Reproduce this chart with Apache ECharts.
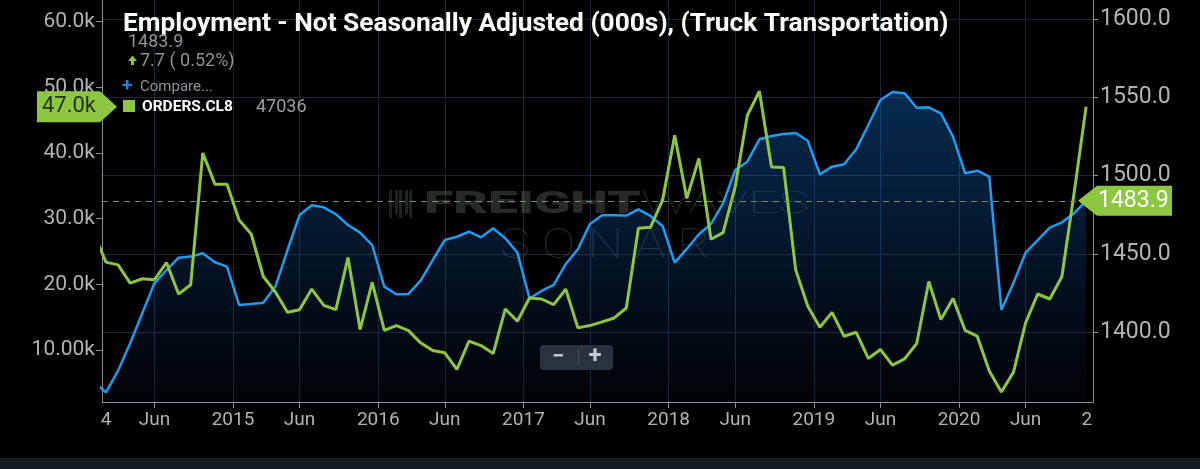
<!DOCTYPE html>
<html><head><meta charset="utf-8">
<script src="https://cdn.jsdelivr.net/npm/echarts@6/dist/echarts.min.js"></script>
<style>html,body{margin:0;padding:0;background:#000;overflow:hidden}#c{width:1200px;height:469px}</style>
</head><body><div id="c"></div>
<script>
// Monthly observations, Jan 2014 .. Nov 2020
const months = ['2014-01','2014-02','2014-03','2014-04','2014-05','2014-06','2014-07','2014-08','2014-09','2014-10','2014-11','2014-12',
'2015-01','2015-02','2015-03','2015-04','2015-05','2015-06','2015-07','2015-08','2015-09','2015-10','2015-11','2015-12',
'2016-01','2016-02','2016-03','2016-04','2016-05','2016-06','2016-07','2016-08','2016-09','2016-10','2016-11','2016-12',
'2017-01','2017-02','2017-03','2017-04','2017-05','2017-06','2017-07','2017-08','2017-09','2017-10','2017-11','2017-12',
'2018-01','2018-02','2018-03','2018-04','2018-05','2018-06','2018-07','2018-08','2018-09','2018-10','2018-11','2018-12',
'2019-01','2019-02','2019-03','2019-04','2019-05','2019-06','2019-07','2019-08','2019-09','2019-10','2019-11','2019-12',
'2020-01','2020-02','2020-03','2020-04','2020-05','2020-06','2020-07','2020-08','2020-09','2020-10','2020-11'];
// Employment - Not Seasonally Adjusted (000s), Truck Transportation (right axis)
const employment = [1367.8,1361.4,1375.3,1392.8,1412.0,1431.1,1439.6,1447.5,1448.2,1450.3,
1444.6,1441.8,1417.3,1417.9,1418.7,1429.0,1452.4,1474.8,1481.0,1479.7,
1475.4,1468.4,1463.5,1455.6,1429.0,1424.1,1424.3,1432.8,1446.0,1458.8,
1460.9,1464.1,1460.5,1466.3,1459.9,1450.7,1421.5,1426.2,1430.1,1443.5,
1452.9,1469.1,1474.6,1474.6,1474.4,1478.4,1474.2,1467.8,1444.3,1453.1,
1462.5,1469.1,1482.3,1503.6,1508.9,1523.2,1525.3,1526.6,1527.2,1522.3,
1500.8,1505.7,1507.2,1516.8,1532.4,1548.3,1553.5,1552.6,1543.4,1543.7,
1539.8,1524.9,1501.5,1503.1,1499.3,1414.1,1431.5,1450.7,1458.8,1466.7,
1470.1,1475.9,1483.9];
// ORDERS.CL8 - Class 8 truck orders (left axis)
const orders = [27700,23380,22970,20190,20850,20700,23320,18520,19940,40010,
35260,35260,29800,27670,21200,18830,15740,16140,19280,16800,
16140,24080,13110,20290,13000,13720,12960,11090,9920,9580,
7040,11340,10680,9470,16250,14370,17920,17770,16900,19280,
13370,13720,14280,14880,16400,28540,28690,32830,42690,33090,
39160,26870,27870,34850,45720,49410,37880,37790,22200,16650,
13460,15740,12100,12700,8710,10080,7700,8660,10990,20440,
14630,17860,13000,12100,6790,3600,6630,14130,18530,17770,
21200,33800,47036];
// x-axis ticks, in month-index units (0 = Jan 2014)
const xTickValues = [5,11.5,17,23.5,29,35.5,41,47.5,53,59.5,65,71.5,77];
const xTickLabels = ['Jun','2015','Jun','2016','Jun','2017','Jun','2018','Jun','2019','Jun','2020','Jun'];
const xEdgeValues = [1,82.07];
const xEdgeLabels = ['4','2'];
const xRange = [0.67,82.57];
// left axis (orders)
const leftTickValues = [10000,20000,30000,40000,50000,60000];
const leftTickLabels = ['10.00k','20.0k','30.0k','40.0k','50.0k','60.0k'];
const leftRange = [2082,63304];
// right axis (employment)
const rightTickValues = [1400,1450,1500,1550,1600];
const rightRange = [1355.2,1612.3];

const titleText = 'Employment - Not Seasonally Adjusted (000s), (Truck Transportation)';
const lastEmp = employment[employment.length-1];
const lastOrd = orders[orders.length-1];
const prevEmp = 1476.2;

const BLUE = '#1f9bf0', GREEN = '#8dc641', GRIDC = '#1a2734', AXC = '#8c8f93', LBL = '#b3b3b3';
const allXLabelValues = xTickValues.concat(xEdgeValues);
const allXLabels = xTickLabels.concat(xEdgeLabels);

const chart = echarts.init(document.getElementById('c'), null, {renderer:'canvas'});
chart.setOption({
  backgroundColor:'#000',
  animation:false,
  textStyle:{fontFamily:'Roboto'},
  grid:{left:102,right:107,top:0,bottom:67,containLabel:false,outerBoundsMode:'none'},
  xAxis:{type:'value',min:xRange[0],max:xRange[1],
    axisLine:{show:true,lineStyle:{color:AXC,width:1}},
    axisTick:{show:true,length:6,lineStyle:{color:AXC},customValues:xTickValues},
    splitLine:{show:true,lineStyle:{color:GRIDC,width:1}},
    axisLabel:{customValues:allXLabelValues,color:LBL,fontSize:19,margin:9,fontFamily:'Roboto',
      formatter:v=>{let i=allXLabelValues.findIndex(a=>Math.abs(a-v)<1e-6);return i>=0?allXLabels[i]:'';}}
  },
  yAxis:[
    {type:'value',position:'left',min:leftRange[0],max:leftRange[1],
      axisLine:{show:true,lineStyle:{color:AXC}},
      axisTick:{show:true,length:6,lineStyle:{color:AXC},customValues:leftTickValues},
      splitLine:{show:false},
      axisLabel:{customValues:leftTickValues,color:LBL,fontSize:21,margin:7,fontFamily:'Roboto',
        formatter:v=>{let i=leftTickValues.indexOf(v);return i>=0?leftTickLabels[i]:'';}}
    },
    {type:'value',position:'right',min:rightRange[0],max:rightRange[1],
      axisLine:{show:true,lineStyle:{color:AXC}},
      axisTick:{show:true,length:5,lineStyle:{color:AXC},customValues:rightTickValues},
      splitLine:{show:true,lineStyle:{color:GRIDC,width:1}},
      axisLabel:{customValues:rightTickValues,color:LBL,fontSize:23,margin:7,fontFamily:'Roboto',
        formatter:v=>v.toFixed(1)}
    }
  ],
  series:[
    {name:'Employment',type:'line',yAxisIndex:1,symbol:'none',clip:true,
      data:months.map((m,i)=>[i,employment[i]]),
      lineStyle:{color:BLUE,width:2.5},itemStyle:{color:BLUE},
      areaStyle:{color:new echarts.graphic.LinearGradient(0,0,0,1,[
        {offset:0,color:'rgba(18,105,195,0.58)'},{offset:0.4,color:'rgba(18,100,190,0.38)'},
        {offset:0.75,color:'rgba(15,80,160,0.2)'},{offset:1,color:'rgba(10,40,80,0.12)'}])},
      markLine:{silent:true,symbol:['none','none'],label:{show:false},
        lineStyle:{color:'#6a8f72',type:[6,5],width:1},data:[{yAxis:lastEmp}]}
    },
    {name:'ORDERS.CL8',type:'line',yAxisIndex:0,symbol:'none',clip:true,
      data:months.map((m,i)=>[i,orders[i]]),
      lineStyle:{color:GREEN,width:3},itemStyle:{color:GREEN}}
  ]
});

const yL = chart.convertToPixel({yAxisIndex:0}, lastOrd);
const yR = chart.convertToPixel({yAxisIndex:1}, lastEmp);
const chg = lastEmp - prevEmp;
const grey = '#8f949a';
const els = [];
// watermark
const wm = 'rgba(255,255,255,0.16)';
[0,5,10,15,20].forEach((dx,j)=>{
  els.push({type:'rect',z:1,shape:{x:389+dx+(j%2)*1,y:190,width:3,height:(j%2?24:28)},style:{fill:'rgba(255,255,255,0.13)'}});
});
els.push({type:'text',z:1,x:424,y:205,scaleX:1.72,style:{text:'FREIGHT',fill:wm,font:'900 31px Roboto',textVerticalAlign:'middle'}});
els.push({type:'text',z:1,x:641,y:205,scaleX:1.7,style:{text:'WAVES',fill:'rgba(255,255,255,0.14)',font:'100 31px Roboto',textVerticalAlign:'middle'}});
els.push({type:'text',z:1,x:500,y:247,scaleX:1.2,style:{text:'S O N A R',fill:'rgba(255,255,255,0.14)',font:'100 42px Roboto',textVerticalAlign:'middle'}});
// title
els.push({type:'text',z:100,x:123,y:24,style:{text:titleText,fill:'#ffffff',font:'bold 26.3px Roboto',textVerticalAlign:'middle'}});
// legend block
els.push({type:'text',z:100,x:128,y:42,style:{text:lastEmp.toFixed(1),fill:grey,font:'18px Roboto',textVerticalAlign:'middle'}});
els.push({type:'polygon',z:100,shape:{points:[[128,61],[137,61],[132.5,55.5]]},style:{fill:GREEN}});
els.push({type:'rect',z:100,shape:{x:131,y:60,width:3,height:5},style:{fill:GREEN}});
els.push({type:'text',z:100,x:140,y:61,style:{text:chg.toFixed(1)+' ( '+(chg/prevEmp*100).toFixed(2)+'%)',fill:grey,font:'18px Roboto',textVerticalAlign:'middle'}});
els.push({type:'text',z:100,x:122,y:86,style:{text:'+',fill:'#2b7fd6',font:'bold 19px Roboto',textVerticalAlign:'middle'}});
els.push({type:'text',z:100,x:140,y:87,style:{text:'Compare...',fill:grey,font:'15px Roboto',textVerticalAlign:'middle'}});
els.push({type:'rect',z:100,shape:{x:123,y:100,width:12,height:12},style:{fill:GREEN}});
els.push({type:'text',z:100,x:142,y:107,style:{text:'ORDERS.CL8',fill:'#ffffff',font:'bold 15.5px Roboto',textVerticalAlign:'middle'}});
els.push({type:'text',z:100,x:256,y:107,style:{text:String(lastOrd),fill:'#9a9ea3',font:'18px Roboto',textVerticalAlign:'middle'}});
// left value flag
els.push({type:'polygon',z:100,shape:{points:[[37,yL-15.5],[100,yL-15.5],[117,yL],[100,yL+15.5],[37,yL+15.5]]},style:{fill:GREEN}});
els.push({type:'text',z:101,x:69,y:yL,style:{text:(lastOrd/1000).toFixed(1)+'k',fill:'#24331a',font:'22px Roboto',textAlign:'center',textVerticalAlign:'middle'}});
// right value flag
els.push({type:'polygon',z:100,shape:{points:[[1078,yR],[1097,yR-15],[1172,yR-15],[1172,yR+15],[1097,yR+15]]},style:{fill:GREEN}});
els.push({type:'text',z:101,x:1098,y:yR,style:{text:lastEmp.toFixed(1),fill:'#ffffff',font:'23px Roboto',textVerticalAlign:'middle'}});
// zoom buttons
els.push({type:'rect',z:100,shape:{x:540,y:345,width:73,height:25,r:4},style:{fill:'#27333f'}});
els.push({type:'rect',z:101,shape:{x:578,y:350,width:1,height:15},style:{fill:'#46525e'}});
els.push({type:'text',z:101,x:558,y:357,style:{text:'−',fill:'#c5c9cd',font:'bold 22px Roboto',textAlign:'center',textVerticalAlign:'middle'}});
els.push({type:'text',z:101,x:595,y:357,style:{text:'+',fill:'#c5c9cd',font:'bold 24px Roboto',textAlign:'center',textVerticalAlign:'middle'}});
// bottom strip
els.push({type:'rect',z:100,shape:{x:0,y:458,width:1200,height:11},style:{fill:'#151c24'}});
chart.setOption({graphic:{elements:els}});
</script></body></html>
